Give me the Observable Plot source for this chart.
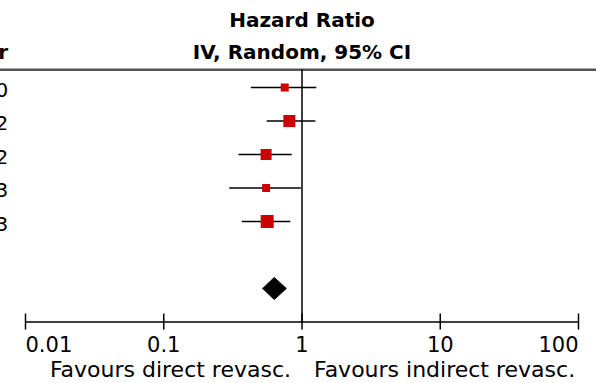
<!DOCTYPE html>
<html>
<head>
<meta charset="utf-8">
<script src="https://cdn.jsdelivr.net/npm/d3@7"></script>
<script src="https://cdn.jsdelivr.net/npm/@observablehq/plot@0.6"></script>
<style>
  html, body { margin: 0; padding: 0; background: #fff; }
  #chart svg { display: block; }
</style>
</head>
<body>
<div id="chart"></div>
<script>
// ---- data ----
const years  = ["2010", "2012", "2012", "2013", "2013"];
const hr     = [0.75, 0.81, 0.55, 0.55, 0.56];
const lower  = [0.43, 0.56, 0.35, 0.30, 0.37];
const upper  = [1.28, 1.26, 0.85, 0.99, 0.83];
const weight = [11.4, 25.6, 21.5, 11.4, 30.1];
const pooledHR = 0.63, pooledLower = 0.52, pooledUpper = 0.77;
const tickValues = [0.01, 0.1, 1, 10, 100];
const tickLabels = ["0.01", "0.1", "1", "10", "100"];
const headerTitle = "Hazard Ratio";
const headerSub = "IV, Random, 95% CI";
const yearHeader = "Year";
const favoursLeft = "Favours direct revasc.";
const favoursRight = "Favours indirect revasc.";

// ---- derived tables ----
const rows = years.map((y, i) => ({year: y, hr: hr[i], lo: lower[i], hi: upper[i], w: weight[i], row: i + 1}));
const pooledRow = rows.length + 2;   // 7
const axisRow = rows.length + 3;     // 8
const headerRow = 0.47;
const dh = 0.33;
const diamond = [
  {x: pooledLower, y: pooledRow},
  {x: pooledHR, y: pooledRow - dh},
  {x: pooledUpper, y: pooledRow},
  {x: pooledHR, y: pooledRow + dh},
  {x: pooledLower, y: pooledRow}
];
const ticks = tickValues.map((v, i) => ({v, label: tickLabels[i], i}));
const yearX = 0.0075;

const chart = Plot.plot({
  width: 596,
  height: 383,
  margin: 0,
  x: {type: "log", domain: [0.01, 100], range: [25, 578], axis: null},
  y: {domain: [0, 8], range: [53.5, 321.5], axis: null},
  r: {type: "sqrt", domain: [0, d3.max(weight)], range: [0, 7.33]},
  style: {fontFamily: "DejaVu Sans", background: "white", color: "black"},
  marks: [
    // header rule
    Plot.ruleY([headerRow], {stroke: "#555", strokeWidth: 2.5}),
    // titles
    Plot.text([headerTitle], {x: 1, y: -1, text: d => d, fontSize: 20, fontWeight: "bold", dy: 0}),
    Plot.text([headerSub], {x: 1, y: -0.05, text: d => d, fontSize: 20, fontWeight: "bold"}),
    Plot.text([yearHeader], {x: yearX, y: -0.05, text: d => d, fontSize: 20, fontWeight: "bold", textAnchor: "end"}),
    // years
    Plot.text(rows, {x: () => yearX, y: "row", text: "year", fontSize: 20, textAnchor: "end", dy: 3}),
    // line of no effect
    Plot.ruleX([1], {y1: headerRow, y2: axisRow, stroke: "black", strokeWidth: 1.5}),
    // CIs
    Plot.ruleY(rows, {y: "row", x1: "lo", x2: "hi", stroke: "black", strokeWidth: 1.5}),
    // squares
    Plot.dot(rows, {x: "hr", y: "row", r: "w", symbol: "square", fill: "#cc0000", stroke: null}),
    // pooled diamond
    Plot.line(diamond, {x: "x", y: "y", fill: "black", stroke: "black", strokeWidth: 1}),
    // axis
    Plot.ruleY([axisRow], {x1: tickValues[0], x2: tickValues[tickValues.length - 1], stroke: "black", strokeWidth: 1.5}),
    Plot.ruleX(ticks, {x: "v", y1: axisRow - 0.24, y2: axisRow + 0.24, stroke: "black", strokeWidth: 1.5}),
    Plot.text(ticks.filter(d => d.i === 0), {x: "v", y: axisRow, text: "label", dy: 23, fontSize: 21, textAnchor: "start"}),
    Plot.text(ticks.filter(d => d.i > 0 && d.i < ticks.length - 1), {x: "v", y: axisRow, text: "label", dy: 23, fontSize: 21, textAnchor: "middle"}),
    Plot.text(ticks.filter(d => d.i === ticks.length - 1), {x: "v", y: axisRow, text: "label", dy: 23, fontSize: 21, textAnchor: "end"}),
    // favours labels
    Plot.text([favoursLeft], {x: 1, y: axisRow, text: d => d, dy: 48, dx: -11, fontSize: 22, textAnchor: "end"}),
    Plot.text([favoursRight], {x: 1, y: axisRow, text: d => d, dy: 48, dx: 12, fontSize: 22, textAnchor: "start"})
  ]
});
document.getElementById("chart").appendChild(chart);
</script>
</body>
</html>
